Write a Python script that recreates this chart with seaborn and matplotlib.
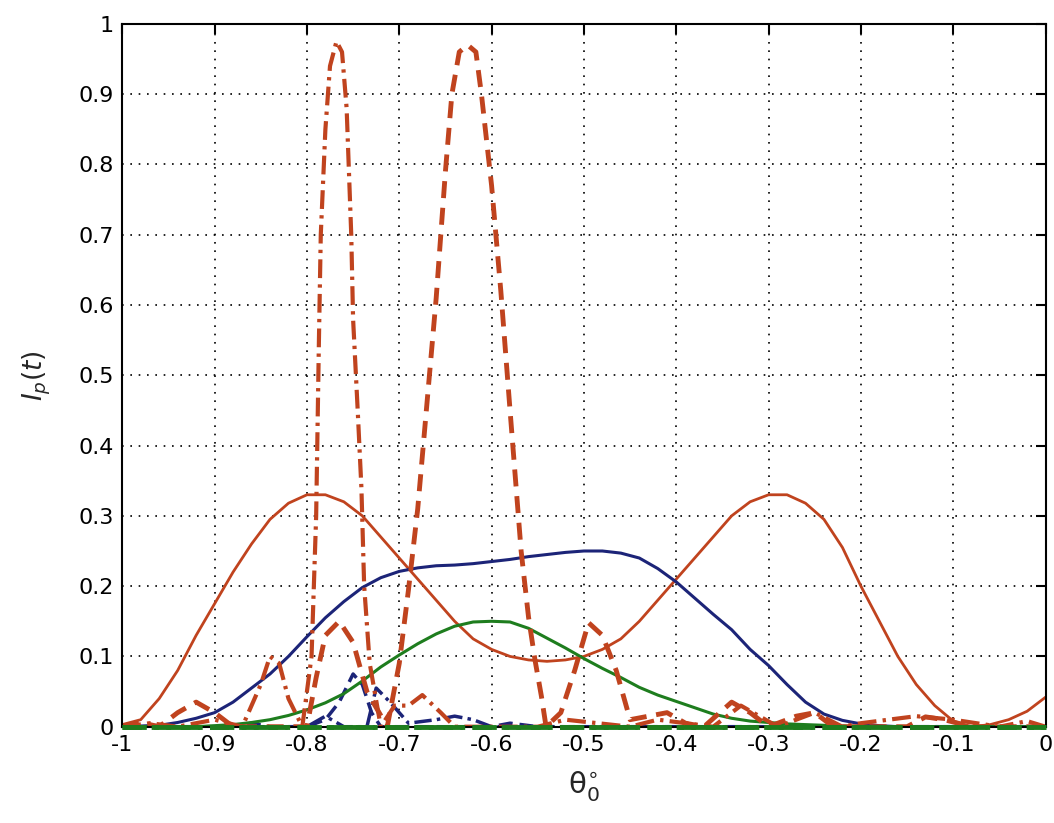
import matplotlib

matplotlib.use("Agg")

import matplotlib.pyplot as plt
import numpy as np
import pandas as pd
import seaborn as sns

# Solid curves
red_x = [-1.0, -0.98, -0.96, -0.94, -0.92, -0.90, -0.88, -0.86, -0.84, -0.82,
         -0.80, -0.78, -0.76, -0.74, -0.72, -0.70, -0.68, -0.66, -0.64, -0.62,
         -0.60, -0.58, -0.56, -0.54, -0.52, -0.50, -0.48, -0.46, -0.44, -0.42,
         -0.40, -0.38, -0.36, -0.34, -0.32, -0.30, -0.28, -0.26, -0.24, -0.22,
         -0.20, -0.18, -0.16, -0.14, -0.12, -0.10, -0.08, -0.06, -0.04, -0.02, 0.0]
red_y = [0.003, 0.01, 0.04, 0.08, 0.13, 0.175, 0.22, 0.26, 0.295, 0.318,
         0.33, 0.33, 0.32, 0.30, 0.27, 0.24, 0.21, 0.18, 0.15, 0.125,
         0.11, 0.10, 0.095, 0.093, 0.095, 0.10, 0.11, 0.125, 0.15, 0.18,
         0.21, 0.24, 0.27, 0.30, 0.32, 0.33, 0.33, 0.318, 0.295, 0.255,
         0.20, 0.15, 0.10, 0.06, 0.03, 0.008, 0.0, 0.003, 0.01, 0.022, 0.042]

blue_x = [-1.0, -0.96, -0.94, -0.92, -0.90, -0.88, -0.86, -0.84, -0.82, -0.80,
          -0.78, -0.76, -0.74, -0.72, -0.70, -0.68, -0.66, -0.64, -0.62, -0.60,
          -0.58, -0.56, -0.54, -0.52, -0.50, -0.48, -0.46, -0.44, -0.42, -0.40,
          -0.38, -0.36, -0.34, -0.32, -0.30, -0.28, -0.26, -0.24, -0.22, -0.20,
          -0.18, -0.16, 0.0]
blue_y = [0.0, 0.002, 0.006, 0.012, 0.02, 0.035, 0.055, 0.075, 0.10, 0.128,
          0.155, 0.178, 0.198, 0.212, 0.221, 0.226, 0.229, 0.23, 0.232, 0.235,
          0.238, 0.242, 0.245, 0.248, 0.25, 0.25, 0.247, 0.24, 0.225, 0.206,
          0.183, 0.16, 0.138, 0.11, 0.087, 0.06, 0.035, 0.018, 0.009, 0.004,
          0.0015, 0.0, 0.0]

green_x = [-1.0, -0.92, -0.88, -0.86, -0.84, -0.82, -0.80, -0.78, -0.76, -0.74,
           -0.72, -0.70, -0.68, -0.66, -0.64, -0.62, -0.60, -0.58, -0.56, -0.54,
           -0.52, -0.50, -0.48, -0.46, -0.44, -0.42, -0.40, -0.38, -0.36, -0.34,
           -0.32, -0.30, -0.28, -0.24, -0.20, 0.0]
green_y = [0.0, 0.0, 0.003, 0.006, 0.01, 0.016, 0.024, 0.034, 0.047, 0.065,
           0.085, 0.102, 0.118, 0.132, 0.143, 0.149, 0.15, 0.149, 0.14, 0.126,
           0.112, 0.097, 0.083, 0.07, 0.056, 0.045, 0.036, 0.027, 0.018, 0.012,
           0.008, 0.006, 0.004, 0.002, 0.0, 0.0]

# Dashed red (main lobe near -0.63)
red_dash_x = [-1.0, -0.98, -0.96, -0.94, -0.92, -0.90, -0.88, -0.80, -0.79, -0.78,
              -0.765, -0.75, -0.735, -0.713, -0.70, -0.69, -0.68, -0.67, -0.66, -0.65,
              -0.643, -0.635, -0.626, -0.617, -0.611, -0.60, -0.59, -0.58, -0.568, -0.56,
              -0.553, -0.546, -0.541, -0.525, -0.51, -0.495, -0.48, -0.465, -0.45, -0.43,
              -0.41, -0.39, -0.37, -0.34, -0.32, -0.30, -0.27, -0.25, -0.23, -0.15,
              -0.13, -0.11, -0.08, 0.0]
red_dash_y = [0.0, 0.006, 0.0, 0.02, 0.035, 0.02, 0.0, 0.0, 0.07, 0.13,
              0.15, 0.12, 0.05, 0.0, 0.09, 0.195, 0.31, 0.46, 0.61, 0.79,
              0.90, 0.96, 0.97, 0.96, 0.90, 0.77, 0.62, 0.45, 0.25, 0.156,
              0.095, 0.043, 0.0, 0.02, 0.08, 0.148, 0.13, 0.08, 0.01, 0.015,
              0.02, 0.005, 0.0, 0.035, 0.02, 0.0, 0.015, 0.02, 0.0, 0.0,
              0.014, 0.01, 0.0, 0.0]

# Dash-dot red (main lobe near -0.77)
red_dd_x = [-1.0, -0.97, -0.94, -0.90, -0.87, -0.85, -0.84, -0.83, -0.82, -0.805,
            -0.795, -0.79, -0.787, -0.785, -0.78, -0.775, -0.768, -0.762, -0.757, -0.752,
            -0.75, -0.745, -0.741, -0.738, -0.732, -0.72, -0.705, -0.69, -0.675, -0.655,
            -0.64, -0.55, -0.52, -0.45, -0.42, -0.36, -0.33, -0.29, -0.25, -0.22,
            -0.20, -0.14, -0.10, -0.05, -0.02, 0.0]
red_dd_y = [0.0, 0.005, 0.0, 0.01, 0.0, 0.06, 0.10, 0.09, 0.04, 0.0,
            0.10, 0.30, 0.55, 0.70, 0.85, 0.94, 0.975, 0.96, 0.88, 0.70,
            0.58, 0.45, 0.34, 0.20, 0.09, 0.0, 0.03, 0.03, 0.045, 0.02,
            0.0, 0.0, 0.01, 0.0, 0.01, 0.0, 0.03, 0.0, 0.02, 0.0,
            0.005, 0.015, 0.01, 0.0, 0.008, 0.0]

# Small blue dashed / dash-dot lobes
blue_dash_x = [-1.0, -0.88, -0.86, -0.84, -0.80, -0.78, -0.765, -0.75, -0.74, -0.73,
               -0.72, -0.60, -0.58, -0.55, 0.0]
blue_dash_y = [0.0, 0.0, 0.005, 0.0, 0.0, 0.01, 0.035, 0.075, 0.06, 0.02,
               0.0, 0.0, 0.005, 0.0, 0.0]

blue_dd_x = [-1.0, -0.80, -0.78, -0.76, -0.735, -0.725, -0.71, -0.69, -0.66, -0.64,
             -0.62, -0.60, 0.0]
blue_dd_y = [0.0, 0.0, 0.015, 0.0, 0.0, 0.055, 0.035, 0.005, 0.01, 0.015,
             0.01, 0.0, 0.0]

# Green dashed / dash-dot stay at zero
green_flat_x = [-1.0, 0.0]
green_flat_y = [0.0, 0.0]

x_ticks = [-1, -0.9, -0.8, -0.7, -0.6, -0.5, -0.4, -0.3, -0.2, -0.1, 0]
x_tick_labels = ["-1", "-0.9", "-0.8", "-0.7", "-0.6", "-0.5", "-0.4", "-0.3", "-0.2", "-0.1", "0"]
y_ticks = [0, 0.1, 0.2, 0.3, 0.4, 0.5, 0.6, 0.7, 0.8, 0.9, 1]
y_tick_labels = ["0", "0.1", "0.2", "0.3", "0.4", "0.5", "0.6", "0.7", "0.8", "0.9", "1"]

RED = "#C0431E"
BLUE = "#1C2478"
GREEN = "#1E7D1E"


def draw(ax, xs, ys, color, lw, dashes=None, clip=True, z=2):
    df = pd.DataFrame({"x": xs, "y": ys})
    sns.lineplot(data=df, x="x", y="y", ax=ax, color=color, linewidth=lw,
                 estimator=None, sort=False)
    line = ax.lines[-1]
    if dashes is not None:
        line.set_dashes(dashes)
    line.set_clip_on(clip)
    line.set_zorder(z)


def main() -> None:
    sns.set_style("white")
    plt.rcParams["font.family"] = ["DejaVu Sans"]
    plt.rcParams["mathtext.fontset"] = "dejavusans"

    fig = plt.figure(figsize=(10.54, 8.23), dpi=100)
    ax = fig.add_axes([0.116, 0.117, 0.876, 0.854])

    draw(ax, blue_dash_x, blue_dash_y, BLUE, 2.5, (4, 2))
    draw(ax, blue_dd_x, blue_dd_y, BLUE, 2.5, (5, 1.5, 1, 1.5))
    draw(ax, red_x, red_y, RED, 2.0)
    draw(ax, blue_x, blue_y, BLUE, 2.2)
    draw(ax, green_x, green_y, GREEN, 2.2)
    draw(ax, red_dash_x, red_dash_y, RED, 3.5, (3.5, 2))
    draw(ax, red_dd_x, red_dd_y, RED, 3.0, (4.5, 1.5, 0.8, 1.5))
    # green zero-level curves sit on the bottom axis, drawn unclipped
    draw(ax, green_flat_x, green_flat_y, GREEN, 3.5, (4, 2), clip=False, z=5)
    draw(ax, green_flat_x, green_flat_y, GREEN, 3.5, (5, 1.5, 1, 1.5), clip=False, z=5)

    ax.set_xlim(-1, 0)
    ax.set_ylim(0, 1)
    ax.set_xticks(x_ticks)
    ax.set_xticklabels(x_tick_labels)
    ax.set_yticks(y_ticks)
    ax.set_yticklabels(y_tick_labels)
    ax.tick_params(direction="in", length=7, width=1.5, labelsize=16,
                   top=True, right=True, colors="black", pad=6)
    ax.grid(True, linestyle=(0, (1, 4)), color="black", linewidth=1.2)
    for spine in ax.spines.values():
        spine.set_color("black")
        spine.set_linewidth(1.5)

    ax.set_xlabel("θ$_0^{\\circ}$", fontsize=21, labelpad=10)
    ax.set_ylabel("$I_p(t)$", fontsize=19, labelpad=18)

    fig.savefig("out.png", dpi=100)
    plt.close(fig)


if __name__ == "__main__":
    main()
